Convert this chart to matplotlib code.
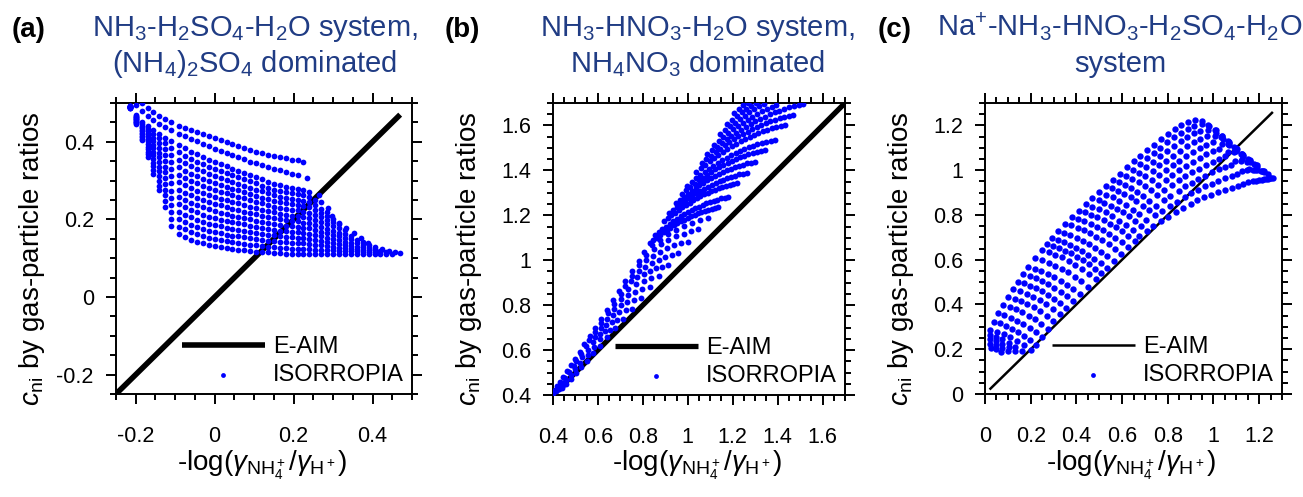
import numpy as np
import matplotlib
matplotlib.use('Agg')
import matplotlib.pyplot as plt
from matplotlib.ticker import MultipleLocator, FuncFormatter

plt.rcParams['font.family'] = ['Liberation Sans', 'DejaVu Sans']
plt.rcParams['mathtext.fontset'] = 'custom'
plt.rcParams['mathtext.rm'] = 'Liberation Sans'
plt.rcParams['mathtext.it'] = 'Liberation Sans:italic'
plt.rcParams['mathtext.bf'] = 'Liberation Sans:bold'

_ = None

# ---------------- panel (a): NH3-H2SO4-H2O ----------------
# x columns, one row per ISORROPIA curve (None = no dot,
# rows stop where the curve stops)
a_cols = [-0.215, -0.20, -0.185, -0.17, -0.155, -0.14, -0.125, -0.11,
          -0.09, -0.075, -0.06, -0.045, -0.03, -0.015, 0.00, 0.015, 0.03, 0.045,
          0.06, 0.075, 0.09, 0.105, 0.12, 0.135, 0.15, 0.165, 0.18, 0.195, 0.21,
          0.225, 0.24, 0.255, 0.27, 0.285, 0.30, 0.315, 0.33, 0.345, 0.36, 0.375,
          0.39, 0.405, 0.42, 0.435, 0.45]
a_rows = [
    [_, _, .499, .487, .476, .466, .458, .451,
     .442, .436, .431, .425, .420, .414, .409, .404, .399, .394,
     .390, .385, .380, .375, .371, .367, .363, .360, .357, .354, .352],
    [_, .494, .480, .467, .456, .447, .438, .430,
     .421, .415, .408, .402, .395, .389, .382, .377, .371, .366,
     .360, .355, .349, .345, .340, .336, .331, .327, .322, .318, .314],
    [.486, .468, .450, .440, .430, .421, .411, .403,
     .392, .383, .375, .368, .361, .354, .348, .342, .337, .331,
     .326, .320, .315, .309, .303, .297, .292, .288, .284, .281, .279,
     .275, .271],
    [.488, .466, .446, .433, .421, .409, .396, .385,
     .373, .364, .356, .349, .342, .336, .330, .324, .319, .314,
     .309, .304, .299, .293, .287, .282, .277, .273, .270, .267, .265,
     .262, .258, .251, .244],
    [.488, .464, .442, .427, .411, .397, .381, .366,
     .354, .345, .337, .330, .324, .318, .312, .307, .302, .297,
     .292, .287, .282, .277, .272, .267, .262, .258, .255, .253, .251,
     .248, .244, .236, .228, .219],
    [.489, .463, .439, .420, .402, .385, .366, .348,
     .335, .326, .318, .311, .305, .299, .294, .289, .284, .279,
     .275, .270, .266, .261, .256, .252, .248, .244, .241, .239, .237,
     .234, .231, .224, .216, .208, .200],
    [.489, .461, .435, .414, .393, .372, .351, .329,
     .315, .307, .299, .293, .287, .281, .276, .271, .267, .262,
     .258, .254, .250, .245, .241, .237, .233, .230, .227, .225, .223,
     .220, .217, .211, .205, .199, .193, .187],
    [.490, .459, .431, .407, .383, .360, .336, .311,
     .296, .288, .280, .274, .268, .263, .258, .253, .249, .245,
     .241, .237, .233, .229, .225, .221, .218, .215, .212, .210, .209,
     .206, .204, .198, .193, .187, .182, .177, .172],
    [.490, .458, .427, .401, .374, .348, .322, .293,
     .277, .269, .262, .256, .250, .245, .240, .236, .232, .228,
     .224, .220, .217, .213, .210, .206, .203, .200, .198, .196, .195,
     .192, .190, .185, .180, .175, .171, .166, .162, .158],
    [.490, .456, .423, .394, .365, .336, .307, .274,
     .258, .250, .243, .237, .231, .226, .221, .217, .214, .210,
     .207, .204, .201, .197, .194, .191, .188, .186, .184, .182, .181,
     .179, .177, .172, .168, .164, .160, .156, .152, .149, .146, .143],
    [.491, .454, .419, .387, .355, .324, .292, .256,
     .239, .231, .224, .218, .212, .207, .203, .199, .196, .193,
     .190, .187, .184, .181, .178, .175, .173, .171, .169, .168, .167,
     .165, .163, .160, .156, .152, .149, .146, .143, .140, .138, .135, .133],
    [.491, .452, .416, .381, .346, .311, .277, .237,
     .220, .212, .205, .199, .194, .189, .185, .182, .179, .176,
     .173, .170, .168, .165, .163, .161, .159, .157, .155, .154, .153,
     .151, .150, .147, .144, .141, .139, .136, .134, .132, .130, .128, .127, .125],
    [.492, .450, .412, .374, .337, .299, .262, .219,
     .200, .193, .186, .180, .175, .171, .167, .164, .161, .158,
     .156, .154, .152, .149, .147, .145, .144, .142, .141, .140, .139,
     .138, .137, .135, .133, .131, .129, .127, .126, .124, .123, .122, .121, .120, .119],
    [.492, .449, .408, .368, .327, .287, .247, .200,
     .181, .174, .167, .162, .157, .153, .149, .146, .144, .141,
     .139, .137, .135, .133, .132, .130, .129, .127, .126, .125, .125,
     .124, .123, .122, .121, .120, .120, .119, .119, .118, .118, .117, .117, .116, .116, .115],
    [.490, .447, .404, .361, .318, .275, .232, .182,
     .162, .155, .148, .143, .138, .134, .131, .128, .126, .124,
     .122, .120, .119, .117, .116, .115, .114, .113, .112, .111, .111,
     .110, .110, .110, .110, .110, .110, .110, .110, .110, .110, .110, .111, .111, .111, .112, .112],
]
# last dot of each curve (right-hand edge of the cloud)
a_end_x = [0.224, 0.234, 0.264, 0.286, 0.298, 0.316, 0.334, 0.352, 0.370,
           0.388, 0.406, 0.424, 0.442, 0.458, 0.469]
a_end_y = [0.349, 0.307, 0.264, 0.229, 0.210, 0.192, 0.178, 0.165, 0.152,
           0.140, 0.130, 0.123, 0.118, 0.115, 0.113]
a_eaim = [-0.25, 0.47]

# ---------------- panel (b): NH3-HNO3-H2O ----------------
b_x = [
    [1.205, 1.227, 1.248, 1.270],
    [1.175, 1.197, 1.218, 1.240, 1.261, 1.283, 1.304],
    [1.145, 1.167, 1.188, 1.210, 1.231, 1.253, 1.274, 1.296, 1.317, 1.339],
    [1.115, 1.137, 1.158, 1.180, 1.201, 1.223, 1.244, 1.266, 1.287, 1.309, 1.330, 1.352, 1.373, 1.395],
    [1.087, 1.109, 1.130, 1.152, 1.173, 1.194, 1.215, 1.237, 1.258, 1.280, 1.301,
     1.323, 1.344, 1.366, 1.387, 1.408, 1.429, 1.451, 1.472, 1.494, 1.515],
    [1.062, 1.083, 1.103, 1.124, 1.144, 1.164, 1.184, 1.205, 1.225, 1.246, 1.266,
     1.287, 1.307, 1.328, 1.348, 1.368, 1.388, 1.409, 1.429, 1.450, 1.470],
    [1.037, 1.057, 1.077, 1.097, 1.116, 1.136, 1.156, 1.176, 1.195, 1.215, 1.235,
     1.255, 1.275, 1.295, 1.314, 1.334, 1.354, 1.374, 1.393, 1.413, 1.433],
    [0.997, 1.017, 1.036, 1.056, 1.075, 1.095, 1.114, 1.134, 1.153, 1.173, 1.193,
     1.213, 1.232, 1.252, 1.271, 1.291, 1.310, 1.330, 1.349, 1.369, 1.388],
    [0.974, 0.993, 1.011, 1.030, 1.048, 1.067, 1.085, 1.104, 1.122, 1.141, 1.159,
     1.178, 1.196, 1.215, 1.233, 1.252, 1.270, 1.289, 1.307, 1.326, 1.344],
    [0.946, 0.964, 0.981, 0.999, 1.017, 1.035, 1.052, 1.070, 1.087, 1.105, 1.123,
     1.141, 1.158, 1.176, 1.193, 1.211, 1.228, 1.246, 1.264, 1.282, 1.299],
    [0.917, 0.935, 0.952, 0.969, 0.986, 1.004, 1.021, 1.038, 1.055, 1.073, 1.090,
     1.107, 1.124, 1.142, 1.159, 1.176, 1.193, 1.211, 1.228, 1.245, 1.262],
    [0.894, 0.910, 0.926, 0.943, 0.959, 0.975, 0.991, 1.008, 1.024, 1.040, 1.056,
     1.072, 1.088, 1.105, 1.121, 1.137, 1.153, 1.170, 1.186, 1.202, 1.218],
    [0.854, 0.871, 0.887, 0.903, 0.919, 0.936, 0.952, 0.968, 0.984, 1.001, 1.017,
     1.034, 1.050, 1.066, 1.082, 1.099, 1.115, 1.131, 1.147, 1.164, 1.180],
    [0.831, 0.847, 0.862, 0.877, 0.892, 0.908, 0.923, 0.938, 0.953, 0.969, 0.984,
     0.999, 1.014, 1.030, 1.045, 1.060, 1.075, 1.091, 1.106, 1.121, 1.136],
    [0.806, 0.842, 0.877, 0.913, 0.949, 0.984, 1.020, 1.055, 1.091],
    [0.781, 0.814, 0.848, 0.881, 0.914, 0.947, 0.981, 1.014, 1.047],
    [0.750, 0.782, 0.813, 0.845, 0.876, 0.908, 0.939, 0.971, 1.002],
    [0.722, 0.752, 0.781, 0.811, 0.840, 0.870, 0.899, 0.929, 0.958],
    [0.694, 0.721, 0.749, 0.776, 0.804, 0.831, 0.858, 0.886, 0.913],
    [0.668, 0.702, 0.735, 0.769, 0.803, 0.836, 0.870],
    [0.639, 0.671, 0.703, 0.735, 0.766, 0.798, 0.830],
    [0.613, 0.643, 0.672, 0.702, 0.731, 0.761, 0.790],
    [0.587, 0.614, 0.641, 0.669, 0.696, 0.723, 0.750],
    [0.563, 0.588, 0.613, 0.638, 0.662, 0.687, 0.712],
    [0.539, 0.562, 0.585, 0.608, 0.630, 0.653, 0.676],
    [0.518, 0.549, 0.580, 0.611, 0.642],
    [0.498, 0.526, 0.554, 0.582, 0.610],
    [0.479, 0.504, 0.530, 0.555, 0.580],
    [0.462, 0.492, 0.522, 0.552],
    [0.446, 0.473, 0.499, 0.526],
    [0.432, 0.455, 0.479, 0.502],
    [0.419, 0.439, 0.460, 0.480],
    [0.408, 0.425, 0.443, 0.460],
    [0.400, 0.414, 0.428, 0.442],
]
b_y = [
    [1.654, 1.672, 1.689, 1.700],
    [1.607, 1.625, 1.642, 1.658, 1.674, 1.687, 1.699],
    [1.561, 1.579, 1.596, 1.612, 1.628, 1.643, 1.658, 1.672, 1.685, 1.697],
    [1.515, 1.533, 1.550, 1.567, 1.583, 1.598, 1.612, 1.626, 1.639, 1.651, 1.663, 1.674, 1.684, 1.693],
    [1.471, 1.489, 1.506, 1.522, 1.538, 1.553, 1.568, 1.581, 1.594, 1.606, 1.618,
     1.629, 1.639, 1.649, 1.658, 1.666, 1.673, 1.680, 1.686, 1.691, 1.696],
    [1.433, 1.450, 1.466, 1.482, 1.497, 1.511, 1.525, 1.538, 1.551, 1.562, 1.573,
     1.583, 1.593, 1.602, 1.611, 1.619, 1.626, 1.632, 1.638, 1.643, 1.647],
    [1.394, 1.410, 1.426, 1.441, 1.456, 1.470, 1.483, 1.496, 1.508, 1.519, 1.530,
     1.540, 1.550, 1.559, 1.567, 1.574, 1.581, 1.587, 1.593, 1.598, 1.602],
    [1.332, 1.348, 1.364, 1.379, 1.393, 1.407, 1.420, 1.433, 1.445, 1.456, 1.467,
     1.477, 1.486, 1.495, 1.503, 1.510, 1.517, 1.523, 1.528, 1.533, 1.537],
    [1.297, 1.312, 1.327, 1.341, 1.355, 1.368, 1.381, 1.393, 1.404, 1.414, 1.424,
     1.433, 1.442, 1.450, 1.458, 1.465, 1.472, 1.478, 1.483, 1.487, 1.491],
    [1.254, 1.269, 1.283, 1.296, 1.309, 1.322, 1.334, 1.345, 1.356, 1.366, 1.375,
     1.384, 1.393, 1.401, 1.408, 1.415, 1.421, 1.426, 1.431, 1.435, 1.439],
    [1.209, 1.223, 1.237, 1.250, 1.263, 1.275, 1.287, 1.298, 1.308, 1.318, 1.328,
     1.337, 1.345, 1.352, 1.359, 1.366, 1.372, 1.377, 1.382, 1.386, 1.390],
    [1.173, 1.187, 1.200, 1.212, 1.224, 1.235, 1.246, 1.256, 1.266, 1.276, 1.285,
     1.293, 1.300, 1.307, 1.314, 1.320, 1.326, 1.331, 1.336, 1.340, 1.343],
    [1.111, 1.125, 1.138, 1.150, 1.162, 1.174, 1.185, 1.195, 1.205, 1.214, 1.223,
     1.231, 1.239, 1.246, 1.253, 1.259, 1.265, 1.270, 1.275, 1.279, 1.282],
    [1.076, 1.089, 1.101, 1.113, 1.124, 1.135, 1.145, 1.155, 1.164, 1.173, 1.181,
     1.189, 1.196, 1.203, 1.209, 1.215, 1.220, 1.225, 1.229, 1.233, 1.236],
    [1.037, 1.066, 1.092, 1.115, 1.135, 1.152, 1.167, 1.178, 1.187],
    [0.998, 1.025, 1.049, 1.071, 1.090, 1.106, 1.119, 1.130, 1.138],
    [0.951, 0.977, 0.999, 1.020, 1.038, 1.053, 1.066, 1.076, 1.083],
    [0.907, 0.931, 0.952, 0.971, 0.988, 1.002, 1.014, 1.024, 1.031],
    [0.864, 0.886, 0.906, 0.924, 0.939, 0.953, 0.964, 0.972, 0.979],
    [0.824, 0.851, 0.874, 0.894, 0.909, 0.922, 0.930],
    [0.779, 0.804, 0.826, 0.845, 0.860, 0.871, 0.879],
    [0.739, 0.763, 0.783, 0.800, 0.814, 0.824, 0.832],
    [0.699, 0.721, 0.739, 0.755, 0.768, 0.778, 0.785],
    [0.662, 0.682, 0.699, 0.713, 0.725, 0.734, 0.740],
    [0.625, 0.643, 0.659, 0.672, 0.683, 0.691, 0.697],
    [0.592, 0.616, 0.635, 0.648, 0.657],
    [0.561, 0.583, 0.600, 0.612, 0.620],
    [0.532, 0.551, 0.567, 0.578, 0.585],
    [0.506, 0.528, 0.544, 0.553],
    [0.481, 0.501, 0.515, 0.523],
    [0.459, 0.476, 0.489, 0.496],
    [0.439, 0.454, 0.465, 0.471],
    [0.422, 0.435, 0.444, 0.449],
    [0.410, 0.420, 0.427, 0.432],
]
b_eaim = [0.40, 1.70]

# ---------------- panel (c): Na-NH3-HNO3-H2SO4-H2O ----------------
# each ISORROPIA rib runs from the upper-left edge of the cloud down to its lower edge
c_x = [
    [0.025, 0.048, 0.070],
    [0.020, 0.047, 0.073, 0.100],
    [0.020, 0.048, 0.075, 0.103, 0.130],
    [0.020, 0.048, 0.076, 0.104, 0.132, 0.160],
    [0.022, 0.052, 0.081, 0.111, 0.141, 0.170, 0.200],
    [0.040, 0.066, 0.093, 0.119, 0.146, 0.172, 0.199, 0.225],
    [0.058, 0.085, 0.113, 0.140, 0.168, 0.195, 0.223, 0.250],
    [0.080, 0.108, 0.135, 0.163, 0.191, 0.219, 0.246, 0.274],
    [0.102, 0.130, 0.158, 0.186, 0.214, 0.242, 0.270, 0.298],
    [0.124, 0.153, 0.182, 0.211, 0.240, 0.269, 0.298, 0.327],
    [0.146, 0.172, 0.199, 0.225, 0.251, 0.277, 0.304, 0.330, 0.356],
    [0.168, 0.195, 0.223, 0.250, 0.277, 0.304, 0.332, 0.359, 0.386],
    [0.190, 0.218, 0.246, 0.274, 0.303, 0.331, 0.359, 0.387, 0.415],
    [0.220, 0.249, 0.278, 0.306, 0.335, 0.364, 0.393, 0.421, 0.450],
    [0.248, 0.278, 0.307, 0.337, 0.366, 0.396, 0.425, 0.455, 0.484],
    [0.270, 0.297, 0.323, 0.350, 0.376, 0.403, 0.429, 0.456, 0.482, 0.509],
    [0.292, 0.319, 0.346, 0.372, 0.399, 0.426, 0.453, 0.479, 0.506, 0.533],
    [0.320, 0.347, 0.374, 0.401, 0.428, 0.455, 0.482, 0.509, 0.536, 0.563],
    [0.350, 0.377, 0.405, 0.432, 0.459, 0.487, 0.514, 0.541, 0.569, 0.596],
    [0.380, 0.407, 0.435, 0.462, 0.489, 0.517, 0.544, 0.571, 0.599, 0.626],
    [0.410, 0.437, 0.464, 0.492, 0.519, 0.546, 0.573, 0.601, 0.628, 0.655],
    [0.440, 0.470, 0.499, 0.529, 0.558, 0.588, 0.617, 0.647, 0.676],
    [0.470, 0.497, 0.523, 0.550, 0.577, 0.603, 0.630, 0.657, 0.683, 0.710],
    [0.500, 0.529, 0.559, 0.588, 0.618, 0.647, 0.676, 0.706, 0.735],
    [0.530, 0.557, 0.583, 0.610, 0.637, 0.663, 0.690, 0.717, 0.743, 0.770],
    [0.560, 0.587, 0.613, 0.640, 0.667, 0.693, 0.720, 0.747, 0.773, 0.800],
    [0.590, 0.618, 0.645, 0.673, 0.700, 0.728, 0.755, 0.783, 0.810, 0.838],
    [0.620, 0.647, 0.675, 0.702, 0.729, 0.757, 0.784, 0.811, 0.839, 0.866],
    [0.650, 0.678, 0.706, 0.734, 0.762, 0.791, 0.819, 0.847, 0.875, 0.903],
    [0.680, 0.708, 0.736, 0.763, 0.791, 0.819, 0.847, 0.874, 0.902, 0.930],
    [0.710, 0.738, 0.766, 0.793, 0.821, 0.849, 0.877, 0.904, 0.932, 0.960],
    [0.740, 0.768, 0.796, 0.823, 0.851, 0.879, 0.907, 0.934, 0.962, 0.990],
    [0.770, 0.798, 0.826, 0.853, 0.881, 0.909, 0.937, 0.964, 0.992, 1.020],
    [0.800, 0.828, 0.856, 0.883, 0.911, 0.939, 0.967, 0.994, 1.022, 1.050],
    [0.830, 0.858, 0.886, 0.913, 0.941, 0.969, 0.997, 1.024, 1.052, 1.080],
    [0.860, 0.887, 0.915, 0.942, 0.969, 0.997, 1.024, 1.051, 1.079, 1.106],
    [0.890, 0.917, 0.943, 0.970, 0.997, 1.023, 1.050, 1.077, 1.103, 1.130],
    [0.920, 0.949, 0.978, 1.007, 1.036, 1.065, 1.094, 1.123, 1.152],
    [0.950, 0.978, 1.006, 1.034, 1.063, 1.091, 1.119, 1.147, 1.175],
    [0.980, 1.009, 1.039, 1.068, 1.097, 1.126, 1.156, 1.185],
    [1.010, 1.037, 1.064, 1.091, 1.119, 1.146, 1.173, 1.200],
    [1.040, 1.069, 1.098, 1.127, 1.155, 1.184, 1.213],
    [1.070, 1.101, 1.131, 1.162, 1.192, 1.223],
    [1.100, 1.126, 1.153, 1.179, 1.206, 1.232],
    [1.130, 1.158, 1.185, 1.213, 1.240],
    [1.160, 1.189, 1.218, 1.247],
    [1.190, 1.221, 1.252],
    [1.220, 1.240, 1.260],
]
c_y = [
    [0.205, 0.199, 0.188],
    [0.225, 0.217, 0.206, 0.190],
    [0.245, 0.236, 0.224, 0.209, 0.190],
    [0.265, 0.256, 0.245, 0.230, 0.212, 0.192],
    [0.286, 0.277, 0.266, 0.253, 0.237, 0.219, 0.198],
    [0.323, 0.315, 0.304, 0.292, 0.277, 0.260, 0.241, 0.220],
    [0.360, 0.351, 0.341, 0.328, 0.313, 0.296, 0.276, 0.255],
    [0.398, 0.389, 0.378, 0.365, 0.350, 0.333, 0.313, 0.291],
    [0.435, 0.426, 0.415, 0.402, 0.387, 0.370, 0.350, 0.328],
    [0.469, 0.460, 0.448, 0.435, 0.419, 0.400, 0.380, 0.357],
    [0.502, 0.494, 0.484, 0.472, 0.459, 0.443, 0.426, 0.407, 0.386],
    [0.536, 0.528, 0.517, 0.505, 0.491, 0.475, 0.457, 0.438, 0.416],
    [0.569, 0.560, 0.550, 0.537, 0.523, 0.506, 0.488, 0.467, 0.445],
    [0.607, 0.598, 0.587, 0.574, 0.559, 0.543, 0.524, 0.503, 0.480],
    [0.643, 0.634, 0.623, 0.610, 0.595, 0.578, 0.558, 0.537, 0.514],
    [0.670, 0.662, 0.652, 0.641, 0.628, 0.613, 0.597, 0.579, 0.560, 0.539],
    [0.696, 0.688, 0.678, 0.666, 0.653, 0.639, 0.622, 0.604, 0.584, 0.563],
    [0.727, 0.719, 0.709, 0.697, 0.684, 0.669, 0.653, 0.634, 0.615, 0.593],
    [0.761, 0.753, 0.743, 0.731, 0.718, 0.703, 0.686, 0.668, 0.648, 0.626],
    [0.791, 0.783, 0.773, 0.761, 0.748, 0.733, 0.716, 0.698, 0.678, 0.656],
    [0.819, 0.811, 0.801, 0.789, 0.776, 0.761, 0.745, 0.726, 0.707, 0.685],
    [0.847, 0.837, 0.825, 0.811, 0.794, 0.775, 0.755, 0.731, 0.706],
    [0.874, 0.865, 0.854, 0.842, 0.827, 0.811, 0.793, 0.774, 0.752, 0.729],
    [0.902, 0.891, 0.878, 0.863, 0.845, 0.824, 0.802, 0.777, 0.749],
    [0.929, 0.919, 0.908, 0.894, 0.879, 0.862, 0.842, 0.821, 0.798, 0.773],
    [0.957, 0.947, 0.934, 0.920, 0.903, 0.885, 0.864, 0.842, 0.817, 0.790],
    [0.985, 0.974, 0.962, 0.947, 0.930, 0.910, 0.889, 0.865, 0.840, 0.812],
    [1.013, 1.002, 0.988, 0.972, 0.954, 0.934, 0.911, 0.886, 0.859, 0.829],
    [1.040, 1.028, 1.014, 0.998, 0.979, 0.958, 0.935, 0.909, 0.881, 0.851],
    [1.065, 1.053, 1.038, 1.021, 1.001, 0.979, 0.954, 0.927, 0.898, 0.866],
    [1.090, 1.077, 1.061, 1.043, 1.022, 0.999, 0.973, 0.944, 0.913, 0.879],
    [1.114, 1.100, 1.084, 1.064, 1.042, 1.018, 0.990, 0.960, 0.927, 0.891],
    [1.139, 1.124, 1.107, 1.086, 1.063, 1.037, 1.007, 0.975, 0.940, 0.902],
    [1.163, 1.148, 1.129, 1.107, 1.082, 1.055, 1.024, 0.990, 0.952, 0.912],
    [1.184, 1.168, 1.148, 1.126, 1.100, 1.071, 1.038, 1.003, 0.964, 0.922],
    [1.201, 1.184, 1.164, 1.141, 1.114, 1.084, 1.050, 1.014, 0.974, 0.930],
    [1.214, 1.197, 1.177, 1.153, 1.125, 1.095, 1.061, 1.023, 0.982, 0.938],
    [1.224, 1.204, 1.180, 1.152, 1.119, 1.082, 1.041, 0.995, 0.945],
    [1.220, 1.201, 1.178, 1.150, 1.119, 1.083, 1.043, 0.999, 0.950],
    [1.199, 1.179, 1.154, 1.124, 1.089, 1.048, 1.003, 0.953],
    [1.168, 1.151, 1.129, 1.103, 1.073, 1.038, 0.999, 0.956],
    [1.140, 1.122, 1.100, 1.072, 1.039, 1.001, 0.958],
    [1.112, 1.094, 1.069, 1.039, 1.002, 0.959],
    [1.085, 1.070, 1.050, 1.026, 0.996, 0.961],
    [1.061, 1.046, 1.024, 0.996, 0.962],
    [1.037, 1.021, 0.996, 0.963],
    [1.015, 0.996, 0.965],
    [0.993, 0.983, 0.967],
]
c_eaim = [0.02, 1.26]

W, H = 1303, 497
fig = plt.figure(figsize=(W / 100, H / 100), dpi=100)
title_color = '#203C84'
dot_color = '#0000FF'


def add_axes(left, top, right, bottom):
    return fig.add_axes([left / W, 1 - bottom / H, (right - left) / W, (bottom - top) / H])


def style(ax, lim):
    ax.set_xlim(lim)
    ax.set_ylim(lim)
    fmt = FuncFormatter(lambda v, p: f'{round(v, 2) + 0.0:g}')
    for axis in (ax.xaxis, ax.yaxis):
        axis.set_major_locator(MultipleLocator(0.2))
        axis.set_minor_locator(MultipleLocator(0.05))
        axis.set_major_formatter(fmt)
    ax.tick_params(which='both', direction='out', top=True, right=True,
                   width=1.4, labelsize=15.5)
    ax.tick_params(which='major', length=7)
    ax.tick_params(which='minor', length=4.5)
    ax.tick_params(axis='x', which='major', pad=16)
    ax.tick_params(axis='y', which='major', pad=9)
    for s in ax.spines.values():
        s.set_linewidth(1.4)


def draw(ax, xs, ys, eaim, lw, size):
    line, = ax.plot(eaim, eaim, color='black', lw=lw, solid_capstyle='butt', zorder=2)
    sc = ax.scatter(xs, ys, s=size, color=dot_color, linewidths=0, zorder=3)
    ax.legend([line, sc], ['E-AIM', 'ISORROPIA'], loc='lower right', frameon=False,
              fontsize=17, handlelength=3.5, handletextpad=0.35, labelspacing=0.25,
              borderaxespad=0.2, borderpad=0.15, scatterpoints=1,
              markerscale=np.sqrt(12 / size))


# panel (a)
for r in a_rows:
    assert len(r) <= len(a_cols)
rows = np.array([r + [_] * (len(a_cols) - len(r)) for r in a_rows], dtype=float)
cols = np.broadcast_to(np.array(a_cols), rows.shape)
keep = ~np.isnan(rows)
ax_a = add_axes(116, 103, 412, 394)
draw(ax_a, np.concatenate([cols[keep], a_end_x]), np.concatenate([rows[keep], a_end_y]),
     a_eaim, 4.0, 17)
style(ax_a, (-0.25, 0.5))

# panel (b)
ax_b = add_axes(553, 103, 845, 395)
draw(ax_b, np.concatenate(b_x), np.concatenate(b_y), b_eaim, 3.8, 18)
style(ax_b, (0.4, 1.7))

# panel (c)
ax_c = add_axes(985, 103, 1282, 394)
draw(ax_c, np.concatenate(c_x), np.concatenate(c_y), c_eaim, 1.8, 21)
style(ax_c, (0, 1.3))

# titles, panel letters and axis labels
titles = [
    (255, r'NH$_3$-H$_2$SO$_4$-H$_2$O system,', r'(NH$_4$)$_2$SO$_4$ dominated'),
    (697, r'NH$_3$-HNO$_3$-H$_2$O system,', r'NH$_4$NO$_3$ dominated'),
    (1120, r'Na$^{+}$-NH$_3$-HNO$_3$-H$_2$SO$_4$-H$_2$O', 'system'),
]
for xc, l1, l2 in titles:
    fig.text(xc / W, 1 - 36 / H, l1, ha='center', va='baseline', fontsize=21, color=title_color)
    fig.text(xc / W, 1 - 72 / H, l2, ha='center', va='baseline', fontsize=21, color=title_color)

for xl, lab in [(12, '(a)'), (445, '(b)'), (878, '(c)')]:
    fig.text(xl / W, 1 - 37 / H, lab, ha='left', va='baseline', fontsize=20, fontweight='bold')

xlabel = r'-log($\gamma_{\mathrm{NH_4^+}}/\gamma_{\mathrm{H^+}}$)'
ylabel = r'$c_{\mathrm{ni}}$ by gas-particle ratios'
for left, right in [(116, 412), (553, 845), (985, 1282)]:
    fig.text((left + right) / 2 / W - 2 / W, 1 - 470 / H, xlabel, ha='center', va='baseline', fontsize=20)
    fig.text((left - 84) / W, 1 - 259 / H, ylabel, rotation=90, ha='center', va='center', fontsize=20)

fig.savefig('out.png', dpi=100)
